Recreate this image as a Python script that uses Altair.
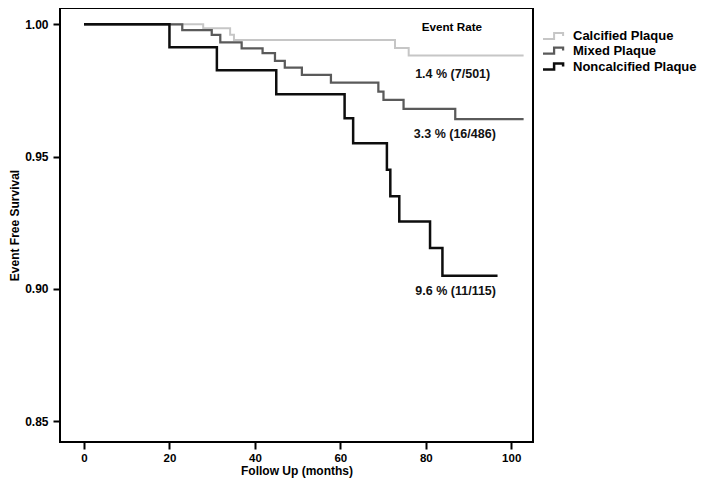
import altair as alt
import pandas as pd

# Kaplan-Meier step curves (month of drop, survival after drop)
calc_t = [0, 27.9, 34.2, 35.1, 72.8, 76.0, 102.9]
calc_s = [1.0, 0.9985, 0.9960, 0.9941, 0.9910, 0.9882, 0.9882]

mixed_t = [0, 23.0, 29.9, 31.9, 36.9, 41.8, 44.7, 47.0, 51.0, 57.8, 68.9, 70.1, 74.8, 86.9, 102.9]
mixed_s = [1.0, 0.9978, 0.9960, 0.9932, 0.9909, 0.9891, 0.9862, 0.9836, 0.9809, 0.9780,
           0.9746, 0.9714, 0.9680, 0.9642, 0.9642]

nonc_t = [0, 20.0, 31.1, 45.0, 61.0, 63.0, 70.9, 71.7, 73.8, 81.0, 83.9, 96.8]
nonc_s = [1.0, 0.9913, 0.9826, 0.9736, 0.9645, 0.9551, 0.9450, 0.9350, 0.9255, 0.9155,
          0.9050, 0.9050]

groups = ["Calcified Plaque", "Mixed Plaque", "Noncalcified Plaque"]
colors = ["#c6c6c6", "#5a5a5a", "#0d0d0d"]
widths = [2.0, 2.5, 3.0]

head_text = ["Event Rate"]
head_x = [86.1]
head_y = [0.999]

ann_text = ["1.4 % (7/501)", "3.3 % (16/486)", "9.6 % (11/115)"]
ann_x = [86.3, 86.8, 87.0]
ann_y = [0.9812, 0.9584, 0.8991]

x_ticks = [0, 20, 40, 60, 80, 100]
y_ticks = [0.85, 0.90, 0.95, 1.00]

rows = []
for g, ts, ss in zip(groups, [calc_t, mixed_t, nonc_t], [calc_s, mixed_s, nonc_s]):
    for i, (t, s) in enumerate(zip(ts, ss)):
        rows.append({"group": g, "t": t, "s": s, "order": i})
df = pd.DataFrame(rows)

head = pd.DataFrame({"text": head_text, "x": head_x, "y": head_y})
ann = pd.DataFrame({"text": ann_text, "x": ann_x, "y": ann_y})

xscale = alt.Scale(domain=[-5.62, 105.1], nice=False, zero=False)
yscale = alt.Scale(domain=[0.8422, 1.00615], nice=False, zero=False)

step_symbol = "M-1.75,0.5 L0.1,0.5 L0.1,-0.5 L1.6,-0.5 L1.6,0"

leg = dict(title=None, orient="none", legendX=486, legendY=21,
           symbolType=step_symbol, symbolSize=144, symbolFillColor="transparent",
           labelFont="Liberation Sans", labelFontSize=13, labelFontWeight="bold",
           labelColor="#000", rowPadding=0, labelOffset=12, symbolOffset=0)

lines = alt.Chart(df).mark_line(interpolate="step-after", clip=True).encode(
    x=alt.X("t:Q", scale=xscale,
            axis=alt.Axis(values=x_ticks, title="Follow Up (months)", format="d")),
    y=alt.Y("s:Q", scale=yscale,
            axis=alt.Axis(values=y_ticks, title="Event Free Survival", format=".2f")),
    color=alt.Color("group:N", scale=alt.Scale(domain=groups, range=colors),
                    legend=alt.Legend(**leg)),
    strokeWidth=alt.StrokeWidth("group:N", scale=alt.Scale(domain=groups, range=widths),
                                legend=alt.Legend(**leg)),
    order=alt.Order("order:Q"),
    detail="group:N",
)

head_layer = alt.Chart(head).mark_text(font="Liberation Sans", fontSize=11.7, color="#000",
                                       fontWeight="bold", align="center",
                                       baseline="middle").encode(
    x=alt.X("x:Q", scale=xscale),
    y=alt.Y("y:Q", scale=yscale),
    text="text:N",
)

ann_layer = alt.Chart(ann).mark_text(font="Liberation Sans", fontSize=12.5, color="#111",
                                     fontWeight="bold", align="center",
                                     baseline="middle").encode(
    x=alt.X("x:Q", scale=xscale),
    y=alt.Y("y:Q", scale=yscale),
    text="text:N",
)

chart = alt.layer(lines, head_layer, ann_layer).properties(
    width=473, height=434,
    autosize=alt.AutoSizeParams(type="none"),
    padding={"left": 52, "top": 0, "right": 168, "bottom": 39},
    background="white",
).configure_view(
    stroke="#000", strokeWidth=2
).configure_axis(
    grid=False, domain=False, tickColor="#000", tickWidth=2, tickSize=7,
    labelFont="Liberation Sans", labelFontWeight="bold", labelColor="#000",
    titleFont="Liberation Sans", titleFontWeight="bold", titleColor="#000",
    titleFontSize=12,
).configure_axisX(
    labelFontSize=11.5, labelPadding=3, titlePadding=2
).configure_axisY(
    labelFontSize=12, labelPadding=5, titlePadding=3
)

chart.save("out.html", embed_options={"renderer": "svg", "actions": False})
